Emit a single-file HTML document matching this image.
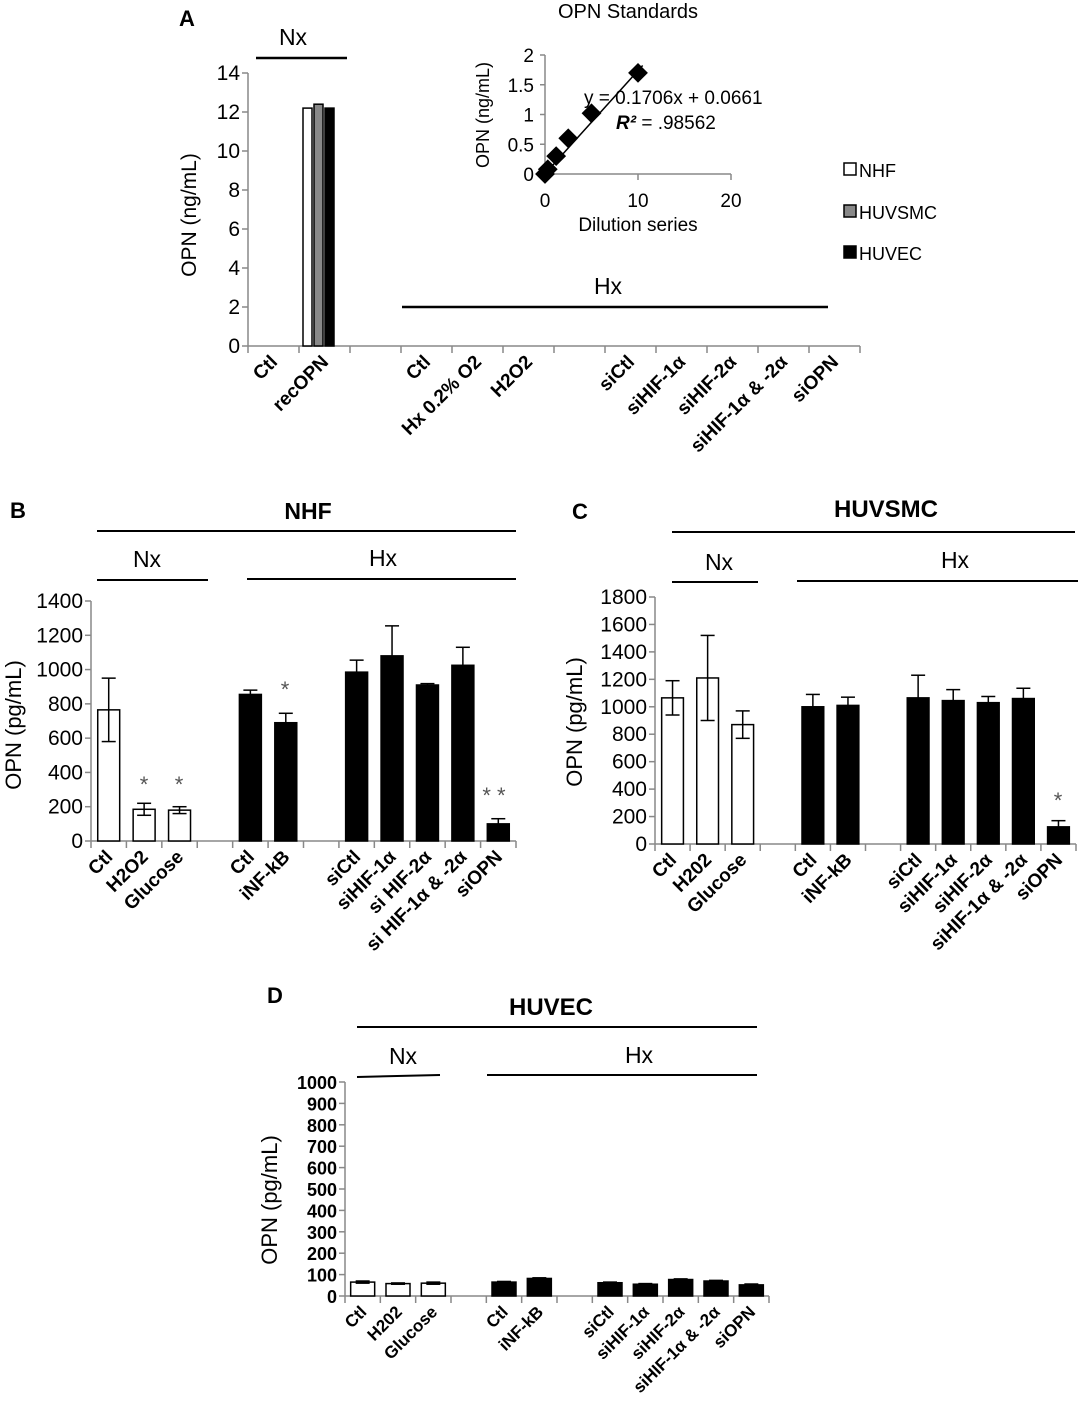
<!DOCTYPE html>
<html><head><meta charset="utf-8">
<style>
html,body{margin:0;padding:0;background:#fff;}
svg{display:block;font-family:"Liberation Sans",sans-serif;}
</style></head>
<body>
<svg id="s" width="1080" height="1409" viewBox="0 0 1080 1409" xmlns="http://www.w3.org/2000/svg"></svg>
<script>
const s=document.getElementById('s');let h='';
function L(x1,y1,x2,y2,w,c){h+=`<line x1="${x1}" y1="${y1}" x2="${x2}" y2="${y2}" stroke="${c||'#000'}" stroke-width="${w||1.5}"/>`;}
function T(x,y,t,o){o=o||{};h+=`<text x="${x}" y="${y}" font-size="${o.fs||19}" text-anchor="${o.a||'middle'}" font-weight="${o.b?'bold':'normal'}" fill="${o.c||'#000'}" ${o.tr?`transform="${o.tr}"`:''}>${t}</text>`;}
function R(x,y,w,hh,f){h+=`<rect x="${x}" y="${y}" width="${w}" height="${hh}" fill="${f}" stroke="#000" stroke-width="1.5"/>`;}
function panel(p){
 const {ax,y0,x1,ymax,ytop,step,ncat,labels,bars,yfs,yb,lbfs}=p;
 const sc=(y0-ytop)/ymax, cw=(x1-ax)/ncat;
 L(ax,ytop,ax,y0,1.5,'#888');L(ax,y0,x1,y0,1.5,'#888');
 for(let v=0;v<=ymax;v+=step){const y=y0-v*sc;L(ax-6,y,ax,y,1.5,'#888');T(ax-8,y+7,v,{a:'end',fs:yfs||21,b:yb});}
 for(let i=0;i<=ncat;i++){const x=ax+i*cw;L(x,y0,x,y0+7,1.5,'#888');}
 labels.forEach((l,i)=>{if(!l)return;const cx=ax+(i+0.5)*cw+5,cy=y0+17;T(cx,cy,l,{a:'end',b:1,fs:lbfs||19,tr:`rotate(-45 ${cx} ${cy})`});});
 bars.forEach(b=>{if(!b)return;const [i,v,e,f,bw,off]=b;const w=bw||cw*0.62;const cx=ax+(i+0.5)*cw+(off||0);const y=y0-v*sc;
  R(cx-w/2,y,w,v*sc,f);
  if(e){const ye=y0-(v+e)*sc;L(cx,ye,cx,y,1.5);L(cx-7,ye,cx+7,ye,1.5);
   if(f=='#fff'){const yl=y0-(v-e)*sc;L(cx,y,cx,yl,1.5);L(cx-7,yl,cx+7,yl,1.5);}}
 });
}
// Panel A
T(187,26,'A',{b:1,fs:22});
T(293,45,'Nx',{fs:23});L(256,58,347,58,2.5);
panel({ax:248,y0:346,x1:860,ymax:14,ytop:73,step:2,ncat:12,
 labels:['Ctl','recOPN','','Ctl','Hx 0.2% O2','H2O2','','siCtl','siHIF-1α','siHIF-2α','siHIF-1α &amp; -2α','siOPN'],
 bars:[[1,12.2,0,'#fff',9,-17],[1,12.4,0,'#888',9,-6],[1,12.2,0,'#000',9,5]],lbfs:19});
T(608,294,'Hx',{fs:23});L(402,307,828,307,2.5);
// inset
T(628,18,'OPN Standards',{fs:20});
(function(){const ax=545,y0=174,yt=55;L(ax,yt,ax,y0,1.5,'#888');L(ax,y0,731,y0,1.5,'#888');
 [0,0.5,1,1.5,2].forEach(v=>{const y=y0-v*59.5;L(ax-5,y,ax,y,1.5,'#888');T(ax-11,y+7,v,{a:'end',fs:19});});
 [0,10,20].forEach(v=>{const x=ax+v*9.3;L(x,y0,x,y0+6,1.5,'#888');T(x,y0+33,v,{fs:19});});
 T(638,231,'Dilution series',{fs:19});
 T(489,115,'OPN (ng/mL)',{fs:18,tr:'rotate(-90 489 115)'});
 L(ax-2,y0+2,ax+10.5*9.3,y0-(0.1706*10.5+0.0661)*59.5+2,1.5);
 [[0,0],[0.3,0.08],[1.2,0.3],[2.5,0.6],[5,1.02],[10,1.7]].forEach(([x,y])=>{const X=ax+x*9.3,Y=y0-y*59.5;h+=`<rect x="${X-7}" y="${Y-7}" width="14" height="14" fill="#000" transform="rotate(45 ${X} ${Y})"/>`;});
 T(584,104,'y = 0.1706x + 0.0661',{a:'start',fs:19});
 h+=`<text x="616" y="129" font-size="19"><tspan font-style="italic" font-weight="bold">R²</tspan> = .98562</text>`;
})();
T(196,215,'OPN (ng/mL)',{fs:21,tr:'rotate(-90 196 215)'});
[['#fff','NHF',170],['#888','HUVSMC',212],['#000','HUVEC',253]].forEach(([f,t,y])=>{R(844,y-7,12,12,f);T(859,y+7,t,{a:'start',fs:18});});
// Panel B
T(18,518,'B',{b:1,fs:22});T(308,519,'NHF',{b:1,fs:23});L(97,531,516,531,2);
T(147,567,'Nx',{fs:23});L(97,580,208,580,2);T(383,566,'Hx',{fs:23});L(247,579,516,579,2);
panel({ax:91,y0:841,x1:516,ymax:1400,ytop:601,step:200,ncat:12,
 labels:['Ctl','H2O2','Glucose','','Ctl','iNF-kB','','siCtl','siHIF-1α','si HIF-2α','si HIF-1α &amp; -2α','siOPN'],
 bars:[[0,765,185,'#fff'],[1,185,35,'#fff'],[2,180,20,'#fff'],[4,855,25,'#000'],[5,690,55,'#000'],[7,985,70,'#000'],[8,1080,175,'#000'],[9,910,8,'#000'],[10,1025,105,'#000'],[11,100,30,'#000']]});
T(21,725,'OPN (pg/mL)',{fs:22,tr:'rotate(-90 21 725)'});
T(144,792,'*',{fs:22,c:'#555'});T(179,792,'*',{fs:22,c:'#555'});T(285,697,'*',{fs:22,c:'#555'});T(494,803,'* *',{fs:22,c:'#555'});
// Panel C
T(580,519,'C',{b:1,fs:22});T(886,517,'HUVSMC',{b:1,fs:24});L(672,532,1075,532,2);
T(719,570,'Nx',{fs:23});L(672,582,758,582,2);T(955,568,'Hx',{fs:23});L(797,581,1078,581,2);
panel({ax:655,y0:844,x1:1076,ymax:1800,ytop:597,step:200,ncat:12,
 labels:['Ctl','H202','Glucose','','Ctl','iNF-kB','','siCtl','siHIF-1α','siHIF-2α','siHIF-1α &amp; -2α','siOPN'],
 bars:[[0,1065,125,'#fff'],[1,1210,310,'#fff'],[2,870,100,'#fff'],[4,1000,90,'#000'],[5,1010,60,'#000'],[7,1065,165,'#000'],[8,1045,80,'#000'],[9,1030,45,'#000'],[10,1060,75,'#000'],[11,125,45,'#000']]});
T(582,722,'OPN (pg/mL)',{fs:22,tr:'rotate(-90 582 722)'});
T(1058,808,'*',{fs:22,c:'#555'});
// Panel D
T(275,1003,'D',{b:1,fs:22});T(551,1015,'HUVEC',{b:1,fs:24});L(357,1027,757,1027,2);
T(403,1064,'Nx',{fs:23});L(357,1077,440,1075,2);T(639,1063,'Hx',{fs:23});L(487,1075,757,1075,2);
panel({ax:345,y0:1296,x1:769,ymax:1000,ytop:1082,step:100,ncat:12,yfs:18,yb:1,lbfs:17,
 labels:['Ctl','H202','Glucose','','Ctl','iNF-kB','','siCtl','siHIF-1α','siHIF-2α','siHIF-1α &amp; -2α','siOPN'],
 bars:[[0,65,5,'#fff',24],[1,58,3,'#fff',24],[2,60,5,'#fff',24],[4,65,3,'#000',24],[5,82,3,'#000',24],[7,62,3,'#000',24],[8,55,3,'#000',24],[9,77,3,'#000',24],[10,70,3,'#000',24],[11,52,4,'#000',24]]});
T(277,1200,'OPN (pg/mL)',{fs:22,tr:'rotate(-90 277 1200)'});
s.innerHTML=h;
</script>
</body></html>
